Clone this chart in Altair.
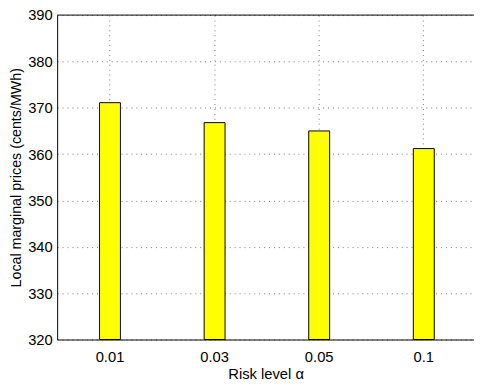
import altair as alt
import pandas as pd

alphas = ["0.01", "0.03", "0.05", "0.1"]
prices = [371.1, 366.8, 365.0, 361.2]
y_ticks = [320, 330, 340, 350, 360, 370, 380, 390]

FONT = "Liberation Sans"
Y_MIN, Y_MAX = y_ticks[0], y_ticks[-1]

df = pd.DataFrame({"alpha": alphas, "price": prices})
top_df = pd.DataFrame({"y": [Y_MAX]})

bars = alt.Chart(df).mark_bar(color="#FFFF00", stroke="black", strokeWidth=1).encode(
    x=alt.X(
        "alpha:N",
        sort=alphas,
        title="Risk level α",
        scale=alt.Scale(paddingInner=0.8, paddingOuter=0.3925, align=0.516),
        axis=alt.Axis(
            labelAngle=0, grid=True, ticks=False, tickSize=0, bandPosition=0.5,
            labelPadding=10, titlePadding=3, domainColor="black",
            gridColor="#777777", gridDash=[1, 4],
        ),
    ),
    y=alt.Y(
        "price:Q",
        title="Local marginal prices (cents/MWh)",
        scale=alt.Scale(domain=[Y_MIN, Y_MAX], nice=False, zero=False),
        axis=alt.Axis(
            values=y_ticks, grid=True, ticks=False, tickSize=0,
            labelPadding=5, titlePadding=4, titleFontSize=14.5, domainColor="black",
            gridColor="#777777", gridDash=[1, 4],
        ),
    ),
    y2=alt.datum(Y_MIN),
)

top = alt.Chart(top_df).mark_rule(color="black", strokeWidth=1).encode(
    y=alt.Y("y:Q")
)

chart = alt.layer(bars, top).properties(
    width=424,
    height=330,
    autosize=alt.AutoSizeParams(type="none"),
    padding={"left": 50, "top": 4, "right": 0, "bottom": 40},
).configure_view(stroke=None).configure_axis(
    labelFont=FONT, titleFont=FONT, labelFontSize=15, titleFontSize=15,
    labelColor="black", titleColor="black", titleFontWeight="normal",
)

chart.save("out.html", embed_options={"renderer": "svg", "actions": False})
